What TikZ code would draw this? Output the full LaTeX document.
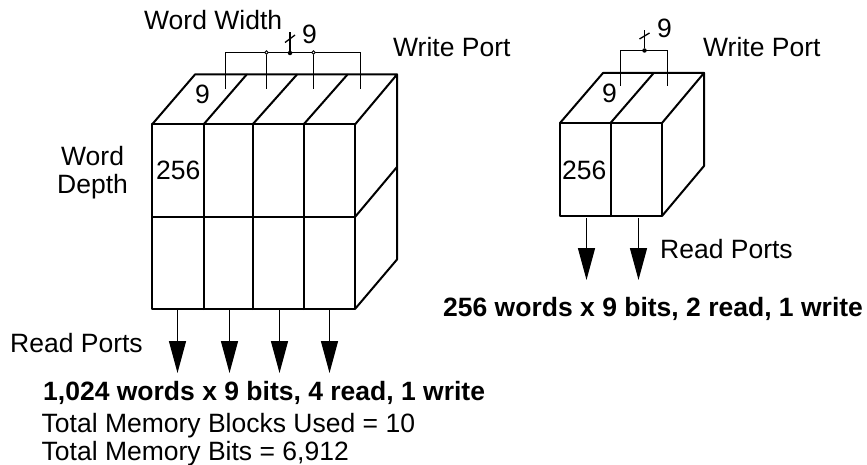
\documentclass[tikz,border=0pt]{standalone}
\usepackage{fontspec}
\setmainfont{Liberation Sans}
\usetikzlibrary{arrows.meta}
\tikzset{
  lbl/.style={inner sep=0pt,anchor=base west,font=\fontsize{26.5}{28}\selectfont},
  lblb/.style={lbl,font=\fontsize{26.5}{28}\selectfont\bfseries},
  box/.style={line width=2pt,line cap=round,line join=round},
  wire/.style={line width=1.3pt},
  port/.style={line width=1.4pt,-{Triangle[length=32pt,width=17pt,fill=black]}},
  opendot/.style={circle,draw=black,fill=white,line width=.8pt,inner sep=0pt,minimum size=3.5pt},
  fulldot/.style={circle,fill=black,inner sep=0pt,minimum size=4.5pt},
}
\begin{document}
\begin{tikzpicture}[x=1pt,y=-1pt]
\useasboundingbox (0,0) rectangle (867,465);
% Left block
\draw[box] (152,124.5) rectangle (355,309);
\draw[box] (152,217) -- (355,217);
\draw[box] (152,124.5) -- (195,74.5) -- (397,74.5) -- (355,124.5);
\draw[box] (203.5,124.5) -- (246.7,74.5);
\draw[box] (252.5,124.5) -- (297,74.5);
\draw[box] (303.5,124.5) -- (347.5,74.5);
\draw[box] (203.5,124.5) -- (203.5,309);
\draw[box] (252.5,124.5) -- (252.5,309);
\draw[box] (303.5,124.5) -- (303.5,309);
\draw[box] (397,74.5) -- (397,259.5) -- (355,309);
\draw[box] (355,217) -- (397,167);
% Left bus
\coordinate (la) at (225.5,89);
\coordinate (lb) at (266.5,89);
\coordinate (lc) at (313.5,89);
\coordinate (ld) at (360.5,89);
\coordinate (lat) at (225.5,52.5);
\coordinate (ldt) at (360.5,52.5);
\coordinate (lt1) at (290,32);
\coordinate (ls1) at (285,42.5);
\coordinate (ls2) at (295,35);
\draw[wire] (la) -- (lat) -- (ldt) -- (ld);
\node[opendot] (lbd) at (266.5,52.5) {};
\node[opendot] (lcd) at (313.5,52.5) {};
\node[fulldot] (lmd) at (290,53) {};
\draw[wire] (lb) -- (lbd);
\draw[wire] (lc) -- (lcd);
\draw[wire] (lmd) -- (lt1);
\draw[wire] (ls1) -- (ls2);
% Left read ports
\foreach \n/\x in {a/177.5,b/229.5,c/279.5,d/329.5}{
  \coordinate (lr\n s) at (\x,310);
  \coordinate (lr\n e) at (\x,373);
  \draw[port] (lr\n s) -- (lr\n e);
}
% Right block
\draw[box] (560,123) rectangle (662,216);
\draw[box] (610.5,123) -- (610.5,216);
\draw[box] (560,123) -- (603,73) -- (704,73) -- (662,123);
\draw[box] (610.5,123) -- (653.7,73);
\draw[box] (704,73) -- (704,166) -- (662,216);
% Right bus
\coordinate (ra) at (620.5,86);
\coordinate (rb) at (667.5,86);
\coordinate (rat) at (620.5,50.5);
\coordinate (rbt) at (667.5,50.5);
\coordinate (rt1) at (644.5,30);
\coordinate (rs1) at (639.5,39);
\coordinate (rs2) at (649.5,33);
\draw[wire] (ra) -- (rat) -- (rbt) -- (rb);
\node[fulldot] (rmd) at (644.5,50.5) {};
\draw[wire] (rmd) -- (rt1);
\draw[wire] (rs1) -- (rs2);
% Right read ports
\foreach \n/\x in {a/586.5,b/638.5}{
  \coordinate (rr\n s) at (\x,218);
  \coordinate (rr\n e) at (\x,280);
  \draw[port] (rr\n s) -- (rr\n e);
}
% Labels
\node[lbl] (t1) at (144,30) {Word Width};
\node[lbl] (t2) at (302,44) {9};
\node[lbl] (t3) at (393,57) {Write Port};
\node[lbl] (t4) at (195,104) {9};
\node[lbl] (t5) at (156,180) {256};
\node[lbl] (t6a) at (61,166) {Word};
\node[lbl] (t6b) at (57,193.5) {Depth};
\node[lbl] (t7) at (10,352) {Read Ports};
\node[lblb] (t8) at (43,400) {1,024 words x 9 bits, 4 read, 1 write};
\node[lbl] (t9) at (41.5,432) {Total Memory Blocks Used = 10};
\node[lbl] (t10) at (41.5,460) {Total Memory Bits = 6,912};
\node[lbl] (t11) at (657,38) {9};
\node[lbl] (t12) at (703,57) {Write Port};
\node[lbl] (t13) at (602,103) {9};
\node[lbl] (t14) at (562,180) {256};
\node[lbl] (t15) at (660,258) {Read Ports};
\node[lblb] (t16) at (443,316) {256 words x 9 bits, 2 read, 1 write};
\end{tikzpicture}
\end{document}
